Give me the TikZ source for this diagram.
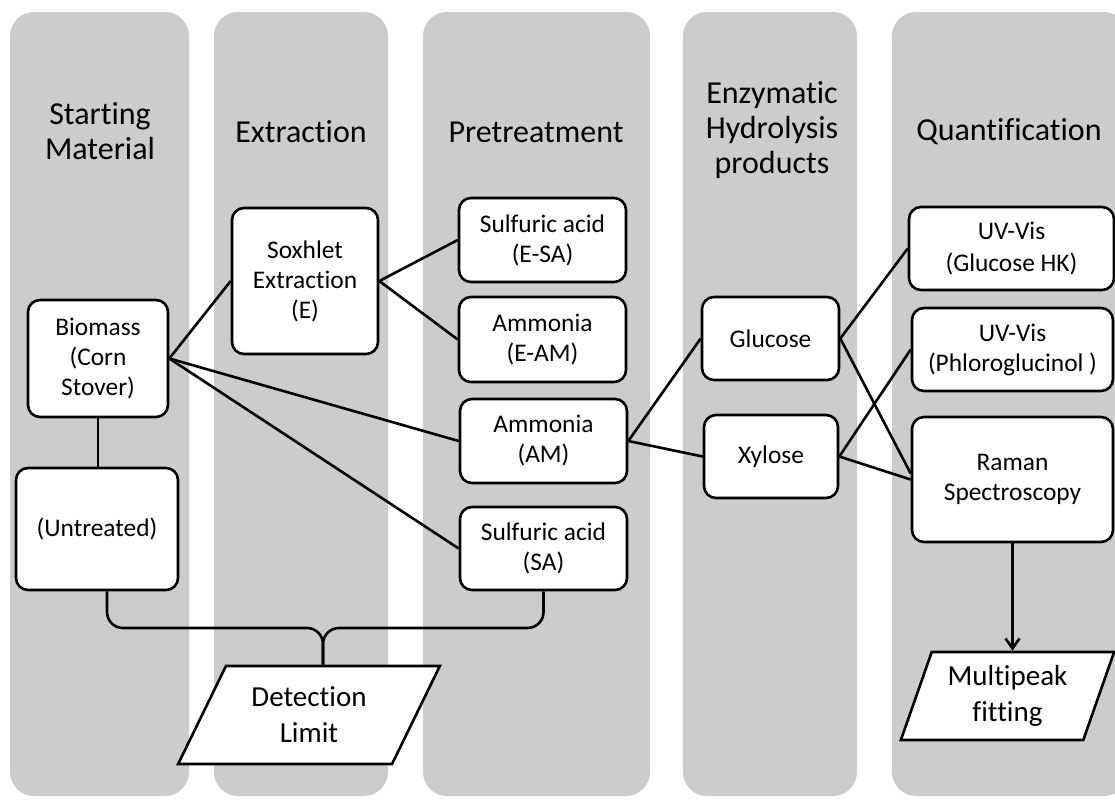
\documentclass[tikz,border=0pt]{standalone}
\usepackage{fontspec}
\setmainfont{Carlito}[Ligatures={NoCommon}]
\usetikzlibrary{shapes.geometric,arrows.meta}
\tikzset{>={Straight Barb[length=5pt,width=7pt]}}
\definecolor{lanegray}{RGB}{204,204,204}
\tikzset{
  lane/.style={fill=lanegray,rounded corners=12pt},
  head/.style={align=center,font=\fontsize{16}{17.5}\selectfont},
  box/.style={draw,line width=1.3pt,fill=white,rounded corners=6pt,align=center,
    inner sep=2pt,font=\fontsize{12.7}{15}\selectfont},
  io/.style={draw,line width=1.3pt,fill=white,shape=trapezium,trapezium stretches=true,
    align=center,font=\fontsize{14.5}{18}\selectfont},
  link/.style={line width=1.3pt},
}

\begin{document}
\begin{tikzpicture}[x=0.5pt,y=-0.5pt]
		\useasboundingbox (0,0) rectangle (1115,800);
		% columns
		\foreach \xa/\xb in {10/189,214/388,423/650,683/857,892/1128}
		\fill[lane] (\xa,12) rectangle (\xb,796);
		
		\node[head] (hstart) at (100,131) {Starting\\Material};
		\node[head] (hext) at (301,132) {Extraction};
		\node[head] (hpre) at (536,132) {Pretreatment};
		\node[head] (henz) at (772,130) {Enzymatic\\Hydrolysis\\products};
		\node[head] (hquant) at (1009,132) {Quantification};
		
		\node[box,minimum width=70pt,minimum height=58.5pt] (bio) at (98,358.5) {Biomass\\(Corn\\Stover)};
		\node[box,minimum width=81pt,minimum height=61pt] (untr) at (97,529) {(Untreated)};
		\node[box,minimum width=73pt,minimum height=73pt] (sox) at (305,281) {Soxhlet\\Extraction\\(E)};
		\node[box,minimum width=83.5pt,minimum height=42pt] (esa) at (542.5,240) {Sulfuric acid\\(E-SA)};
		\node[box,minimum width=83.5pt,minimum height=42.5pt] (eam) at (542.5,339.5) {Ammonia\\(E-AM)};
		\node[box,minimum width=83.5pt,minimum height=42pt] (am) at (543.5,441) {Ammonia\\(AM)};
		\node[box,minimum width=83.5pt,minimum height=41.5pt] (sa) at (543.5,548.5) {Sulfuric acid\\(SA)};
		\node[box,minimum width=68.5pt,minimum height=41.5pt] (glu) at (770.5,338.5) {Glucose};
		\node[box,minimum width=67pt,minimum height=41.5pt] (xyl) at (771,456.5) {Xylose};
		\node[box,minimum width=102.5pt,minimum height=41.5pt] (uvg) at (1011.5,248.5) {UV-Vis\\[1pt](Glucose HK)};
		\node[box,minimum width=100.5pt,minimum height=41.5pt] (uvp) at (1012.5,349.5) {UV-Vis\\(Phloroglucinol )};
		\node[box,minimum width=100.5pt,minimum height=62.5pt] (ram) at (1012.5,479.5) {Raman\\Spectroscopy};
		\node[io,minimum width=131pt,minimum height=49pt,
		  trapezium left angle=62,trapezium right angle=118] (det) at (309,715) {Detection\\Limit};
		\node[io,minimum width=107.5pt,minimum height=44pt,
		  trapezium left angle=70,trapezium right angle=110] (mpf) at (1007.5,696) {Multipeak\\fitting};
		
		\draw[link] (bio.south) -- (bio.south |- untr.north);
		\draw[link] (bio.east) -- (sox.west);
		\draw[link] (bio.east) -- (am.west);
		\draw[link] (bio.east) -- (sa.west);
		\draw[link] (sox.east) -- (esa.west);
		\draw[link] (sox.east) -- (eam.west);
		\draw[link] (am.east) -- (glu.west);
		\draw[link] (am.east) -- (xyl.west);
		\draw[link] (glu.east) -- (uvg.west);
		\draw[link] (glu.east) -- ([yshift=3pt]ram.west);
		\draw[link] (xyl.east) -- (uvp.west);
		\draw[link] (xyl.east) -- (ram.west);
		\draw[link,->] (ram.south) -- (ram.south |- mpf.north);
		
		% detection limit brace
		\coordinate (joint) at (323,628);
		\draw[link,rounded corners=8pt] ([xshift=5pt]untr.south) |- (joint) -- (joint |- det.north);
		\draw[link,rounded corners=8pt] (sa.south) |- (joint) -- (joint |- det.north);
		
		\end{tikzpicture}
\end{document}
